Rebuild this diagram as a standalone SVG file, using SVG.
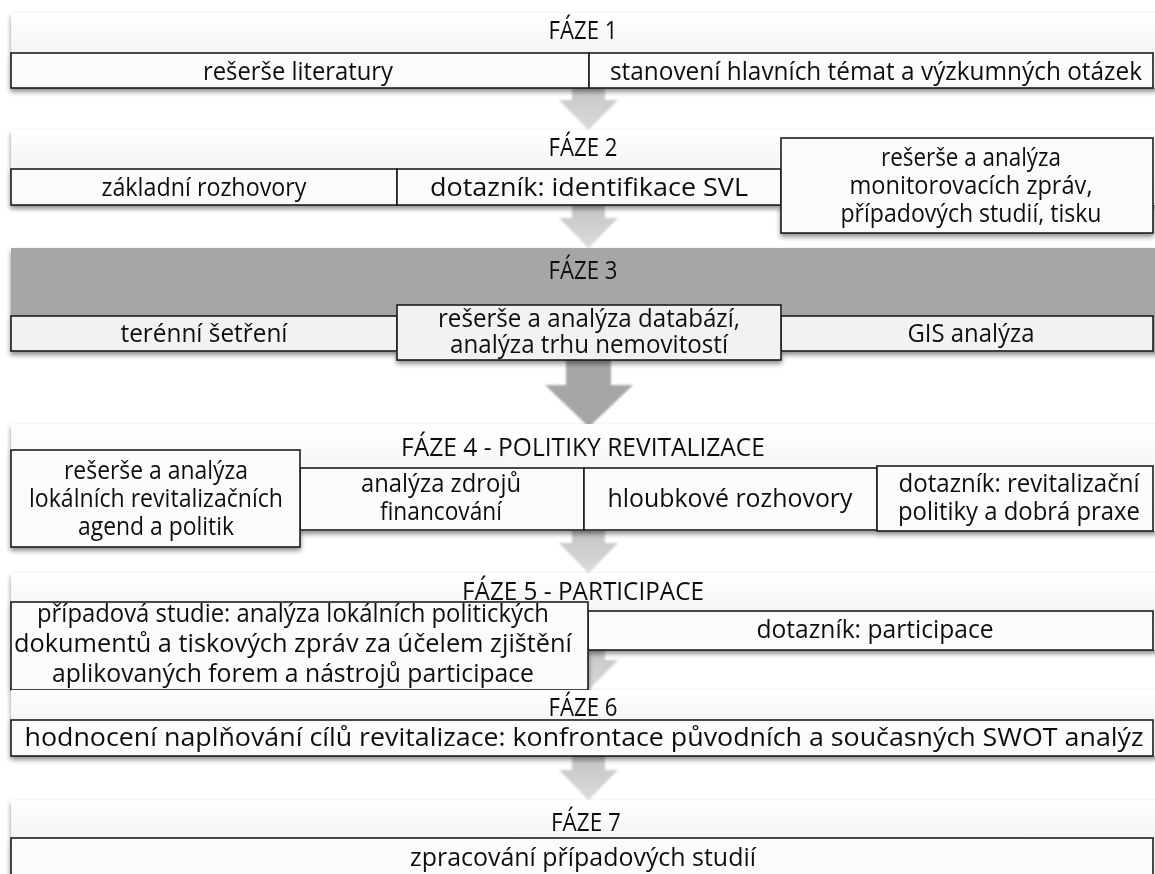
<svg xmlns="http://www.w3.org/2000/svg" width="1155" height="874" viewBox="0 0 1155 874">
  <defs>
    <linearGradient id="bandGrad" x1="0" y1="0" x2="0" y2="1">
      <stop offset="0" stop-color="#ffffff"/>
      <stop offset="0.55" stop-color="#f3f3f3"/>
      <stop offset="1" stop-color="#ececec"/>
    </linearGradient>
    <linearGradient id="arrowGrad" x1="0" y1="0" x2="0" y2="1">
      <stop offset="0" stop-color="#c2c2c2"/>
      <stop offset="1" stop-color="#dadada"/>
    </linearGradient>
    <filter id="shadow" x="-5%" y="-20%" width="110%" height="150%">
      <feGaussianBlur in="SourceAlpha" stdDeviation="2.5"/>
      <feOffset dx="0" dy="3" result="b"/>
      <feComponentTransfer><feFuncA type="linear" slope="0.45"/></feComponentTransfer>
      <feMerge><feMergeNode/><feMergeNode in="SourceGraphic"/></feMerge>
    </filter>
    <filter id="soft" x="-20%" y="-20%" width="140%" height="140%">
      <feGaussianBlur stdDeviation="1.2"/>
    </filter>
  </defs>
  <style>
    text { font-family: "Open Sans", "Liberation Sans", sans-serif; font-size: 25px; fill: #111; text-anchor: middle; }
    .band { fill: url(#bandGrad); }
    .band-dark { fill: #a6a6a6; }
    .box { fill: #fbfbfb; stroke: #1c1c1c; stroke-width: 1.6; }
    .box-grey { fill: #f2f2f2; stroke: #1c1c1c; stroke-width: 1.6; }
    .arrow { fill: url(#arrowGrad); filter: url(#soft); }
    .arrow-dark { fill: #a6a6a6; filter: url(#soft); }
  </style>

  <rect width="1155" height="874" fill="#ffffff"/>

  <!-- connectors: block arrows between phases, drawn beneath the bands -->
  <g id="connectors">
    <path class="arrow" d="M572,80 H605 V100 H618 L588.5,130 L559,100 H572 Z"/>
    <path class="arrow" d="M572,198 H605 V218 H618 L588.5,248 L559,218 H572 Z"/>
    <path class="arrow-dark" d="M566,352 H611 V385 H633 L589,427 L545,385 H566 Z"/>
    <path class="arrow" d="M572,525 H605 V543 H618 L588.5,573 L559,543 H572 Z"/>
    <path class="arrow" d="M572,642 H605 V660 H618 L588.5,690 L559,660 H572 Z"/>
    <path class="arrow" d="M572,750 H605 V770 H618 L588.5,800 L559,770 H572 Z"/>
  </g>

  <!-- phase 1 -->
  <g id="phase1" filter="url(#shadow)">
    <rect class="band" x="11" y="13" width="1150" height="75"/>
    <text x="583" y="39" textLength="69" lengthAdjust="spacingAndGlyphs">FÁZE 1</text>
    <rect class="box" x="11" y="53" width="578" height="35"/>
    <rect class="box" x="589" y="53" width="564" height="35"/>
    <text x="298" y="80" textLength="190" lengthAdjust="spacingAndGlyphs">rešerše literatury</text>
    <text x="876" y="80" textLength="532" lengthAdjust="spacingAndGlyphs">stanovení hlavních témat a výzkumných otázek</text>
  </g>

  <!-- phase 2 -->
  <g id="phase2" filter="url(#shadow)">
    <rect class="band" x="11" y="130" width="1150" height="75"/>
    <text x="583" y="156" textLength="69" lengthAdjust="spacingAndGlyphs">FÁZE 2</text>
    <rect class="box" x="11" y="169" width="386" height="36"/>
    <rect class="box" x="397" y="169" width="384" height="36"/>
    <rect class="box" x="781" y="138" width="372" height="95"/>
    <text x="204" y="196" textLength="205" lengthAdjust="spacingAndGlyphs">základní rozhovory</text>
    <text x="589" y="196" textLength="318" lengthAdjust="spacingAndGlyphs">dotazník: identifikace SVL</text>
    <text x="971" y="166" textLength="180" lengthAdjust="spacingAndGlyphs">rešerše a analýza</text>
    <text x="971" y="194" textLength="243" lengthAdjust="spacingAndGlyphs">monitorovacích zpráv,</text>
    <text x="971" y="222" textLength="261" lengthAdjust="spacingAndGlyphs">případových studií, tisku</text>
  </g>

  <!-- phase 3 -->
  <g id="phase3" filter="url(#shadow)">
    <rect class="band-dark" x="11" y="248" width="1150" height="104"/>
    <text x="583" y="279" textLength="69" lengthAdjust="spacingAndGlyphs">FÁZE 3</text>
    <rect class="box-grey" x="11" y="316" width="386" height="35"/>
    <rect class="box-grey" x="781" y="316" width="372" height="35"/>
    <rect class="box-grey" x="397" y="305" width="384" height="55"/>
    <text x="204" y="342" textLength="167" lengthAdjust="spacingAndGlyphs">terénní šetření</text>
    <text x="589" y="327" textLength="302" lengthAdjust="spacingAndGlyphs">rešerše a analýza databází,</text>
    <text x="589" y="353" textLength="278" lengthAdjust="spacingAndGlyphs">analýza trhu nemovitostí</text>
    <text x="971" y="342" textLength="127" lengthAdjust="spacingAndGlyphs">GIS analýza</text>
  </g>

  <!-- phase 4 -->
  <g id="phase4" filter="url(#shadow)">
    <rect class="band" x="11" y="424" width="1150" height="107"/>
    <text x="583" y="456" textLength="364" lengthAdjust="spacingAndGlyphs">FÁZE 4 - POLITIKY REVITALIZACE</text>
    <rect class="box" x="300" y="468" width="284" height="62"/>
    <rect class="box" x="584" y="468" width="293" height="62"/>
    <rect class="box" x="877" y="466" width="276" height="65"/>
    <rect class="box" x="11" y="450" width="289" height="97"/>
    <text x="156" y="479" textLength="184" lengthAdjust="spacingAndGlyphs">rešerše a analýza</text>
    <text x="156" y="507" textLength="254" lengthAdjust="spacingAndGlyphs">lokálních revitalizačních</text>
    <text x="156" y="535" textLength="156" lengthAdjust="spacingAndGlyphs">agend a politik</text>
    <text x="441" y="492" textLength="160" lengthAdjust="spacingAndGlyphs">analýza zdrojů</text>
    <text x="441" y="520" textLength="122" lengthAdjust="spacingAndGlyphs">financování</text>
    <text x="730" y="507" textLength="245" lengthAdjust="spacingAndGlyphs">hloubkové rozhovory</text>
    <text x="1019" y="492" textLength="241" lengthAdjust="spacingAndGlyphs">dotazník: revitalizační</text>
    <text x="1019" y="520" textLength="242" lengthAdjust="spacingAndGlyphs">politiky a dobrá praxe</text>
  </g>

  <!-- phase 5 -->
  <g id="phase5" filter="url(#shadow)">
    <rect class="band" x="11" y="573" width="1150" height="77"/>
    <text x="583" y="600" textLength="242" lengthAdjust="spacingAndGlyphs">FÁZE 5 - PARTICIPACE</text>
    <rect class="box" x="588" y="611" width="565" height="39"/>
    <rect class="box" x="11" y="602" width="577" height="88"/>
    <text x="293" y="622" textLength="512" lengthAdjust="spacingAndGlyphs">případová studie: analýza lokálních politických</text>
    <text x="293" y="652" textLength="558" lengthAdjust="spacingAndGlyphs">dokumentů a tiskových zpráv za účelem zjištění</text>
    <text x="293" y="682" textLength="482" lengthAdjust="spacingAndGlyphs">aplikovaných forem a nástrojů participace</text>
    <text x="875" y="638" textLength="237" lengthAdjust="spacingAndGlyphs">dotazník: participace</text>
  </g>

  <!-- phase 6 -->
  <g id="phase6" filter="url(#shadow)">
    <rect class="band" x="11" y="690" width="1150" height="66"/>
    <text x="583" y="716" textLength="69" lengthAdjust="spacingAndGlyphs">FÁZE 6</text>
    <rect class="box" x="11" y="720" width="1142" height="36"/>
    <text x="584" y="746" textLength="1119" lengthAdjust="spacingAndGlyphs">hodnocení naplňování cílů revitalizace: konfrontace původních a současných SWOT analýz</text>
  </g>

  <!-- phase 7 -->
  <g id="phase7" filter="url(#shadow)">
    <rect class="band" x="11" y="800" width="1150" height="80"/>
    <text x="586" y="831" textLength="70" lengthAdjust="spacingAndGlyphs">FÁZE 7</text>
    <rect class="box" x="11" y="838" width="1142" height="40"/>
    <text x="583" y="866" textLength="346" lengthAdjust="spacingAndGlyphs">zpracování případových studií</text>
  </g>
</svg>
